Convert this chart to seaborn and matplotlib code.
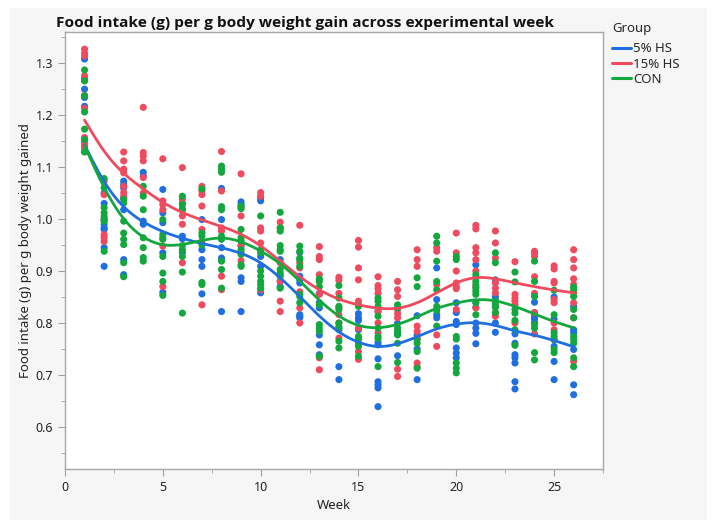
import matplotlib
matplotlib.use('Agg')
import matplotlib.pyplot as plt
from matplotlib.patches import Rectangle
from matplotlib.ticker import MultipleLocator
import numpy as np
import pandas as pd
import seaborn as sns

# week numbers on the x axis
weeks = [1, 2, 3, 4, 5, 6, 7, 8, 9, 10, 11, 12, 13,
         14, 15, 16, 17, 18, 19, 20, 21, 22, 23, 24, 25, 26]

groups = ['5% HS', '15% HS', 'CON']
group_colors = {'5% HS': '#1f6fe0', '15% HS': '#ef4a5e', 'CON': '#13a83e'}

# food intake per g body weight gained, one list per week
hs5_vals = [
    [1.308, 1.27, 1.25, 1.234, 1.217, 1.138, 1.13],
    [1.05, 1.03, 1.0, 0.99, 0.983, 0.98, 0.945, 0.909],
    [1.073, 1.067, 1.06, 1.04, 1.018, 0.922, 0.893],
    [1.09, 1.083, 0.996, 0.99],
    [1.057, 1.012, 0.993, 0.935, 0.859],
    [1.03, 1.02, 0.967, 0.962, 0.936],
    [0.999, 0.941, 0.922, 0.909, 0.856],
    [1.059, 0.999, 0.945, 0.925, 0.822],
    [1.033, 1.028, 0.948, 0.887, 0.88, 0.822],
    [1.041, 1.035, 0.928, 0.909, 0.858],
    [0.922, 0.891, 0.88, 0.87],
    [0.936, 0.89, 0.883, 0.877, 0.816, 0.813, 0.81],
    [0.857, 0.839, 0.829, 0.777, 0.758, 0.739],
    [0.793, 0.787, 0.716, 0.691],
    [0.818, 0.81, 0.805, 0.787],
    [0.822, 0.763, 0.758, 0.731, 0.687, 0.681, 0.675, 0.639],
    [0.799, 0.78, 0.737],
    [0.814, 0.777, 0.75, 0.691],
    [0.906, 0.845, 0.816, 0.81],
    [0.839, 0.82, 0.803, 0.797, 0.752, 0.742, 0.733],
    [0.912, 0.84, 0.83, 0.80, 0.79, 0.78, 0.76],
    [0.883, 0.851, 0.845, 0.8, 0.782],
    [0.779, 0.761, 0.739, 0.733, 0.723, 0.687, 0.673],
    [0.84, 0.82, 0.814, 0.808, 0.801],
    [0.85, 0.808, 0.768, 0.755, 0.726, 0.691],
    [0.832, 0.787, 0.781, 0.749, 0.681, 0.662],
]
hs15_vals = [
    [1.327, 1.319, 1.314, 1.276, 1.266, 1.238, 1.213, 1.157, 1.15, 1.144, 1.14],
    [1.073, 1.047, 0.97, 0.964, 0.957],
    [1.129, 1.112, 1.096, 1.089, 1.063, 1.051, 1.044],
    [1.215, 1.128, 1.121, 1.112, 1.08, 1.05],
    [1.116, 1.035, 1.028, 1.018, 0.948, 0.870],
    [1.099, 1.038, 1.006, 0.99, 0.916],
    [1.063, 1.054, 1.047, 1.025, 0.98, 0.957, 0.835],
    [1.13, 1.054, 0.983, 0.977, 0.89, 0.864],
    [1.087, 1.022, 1.006, 0.95, 0.935, 0.92],
    [1.051, 1.044, 0.983, 0.977, 0.954, 0.864],
    [0.994, 0.983, 0.916, 0.88, 0.842, 0.822],
    [0.988, 0.916, 0.906, 0.86, 0.829, 0.80],
    [0.947, 0.928, 0.922, 0.893, 0.855, 0.733, 0.71],
    [0.888, 0.882, 0.857, 0.83, 0.816, 0.80, 0.771],
    [0.959, 0.946, 0.906, 0.883, 0.842, 0.835, 0.79, 0.745, 0.73],
    [0.889, 0.872, 0.866, 0.857, 0.822, 0.80, 0.781],
    [0.88, 0.864, 0.851, 0.826, 0.818, 0.81, 0.711, 0.697],
    [0.941, 0.922, 0.909, 0.794, 0.784, 0.77, 0.723, 0.716],
    [0.945, 0.938, 0.874, 0.777, 0.755],
    [0.973, 0.935, 0.90, 0.877, 0.870, 0.866, 0.826],
    [0.988, 0.981, 0.945, 0.935, 0.922, 0.90, 0.87, 0.829],
    [0.977, 0.954, 0.925, 0.877, 0.867, 0.858, 0.832, 0.819, 0.813],
    [0.918, 0.855, 0.848, 0.842, 0.835, 0.8],
    [0.938, 0.934, 0.928, 0.889, 0.857, 0.82, 0.779],
    [0.91, 0.904, 0.88, 0.877, 0.845, 0.839, 0.80, 0.787],
    [0.941, 0.922, 0.906, 0.885, 0.874, 0.858, 0.839, 0.81, 0.726],
]
con_vals = [
    [1.287, 1.266, 1.237, 1.206, 1.173, 1.153, 1.129],
    [1.078, 1.06, 1.022, 1.012, 1.005, 0.999, 0.996, 0.938],
    [1.038, 1.031, 0.996, 0.973, 0.961, 0.951, 0.916, 0.889],
    [1.063, 1.044, 1.018, 0.964, 0.945, 0.926, 0.919],
    [0.999, 0.97, 0.964, 0.961, 0.928, 0.896, 0.88, 0.853],
    [1.044, 1.028, 1.017, 0.949, 0.941, 0.928, 0.898, 0.819],
    [1.058, 0.973, 0.967, 0.95, 0.878, 0.874],
    [1.102, 1.096, 1.09, 1.024, 1.018, 0.967, 0.961, 0.919, 0.903, 0.867],
    [1.025, 1.02, 0.98, 0.964, 0.958, 0.941, 0.932, 0.912, 0.909],
    [1.006, 0.941, 0.935, 0.9, 0.89, 0.88, 0.874, 0.867],
    [1.013, 0.983, 0.977, 0.949, 0.941, 0.938, 0.903, 0.896, 0.89, 0.867],
    [0.948, 0.938, 0.925, 0.922, 0.909, 0.855, 0.851, 0.839],
    [0.885, 0.88, 0.87, 0.835, 0.797, 0.79, 0.784, 0.736],
    [0.872, 0.848, 0.832, 0.826, 0.8, 0.79, 0.765, 0.752],
    [0.832, 0.774, 0.768, 0.76, 0.755, 0.736],
    [0.848, 0.842, 0.832, 0.813, 0.79, 0.774, 0.77, 0.716],
    [0.835, 0.829, 0.79, 0.784, 0.777, 0.761, 0.724],
    [0.887, 0.87, 0.768, 0.761, 0.745, 0.713],
    [0.967, 0.954, 0.919, 0.88, 0.864, 0.832, 0.824, 0.794],
    [0.928, 0.922, 0.774, 0.769, 0.723, 0.713, 0.704],
    [0.893, 0.887, 0.88, 0.874, 0.867, 0.861, 0.855, 0.839, 0.816],
    [0.935, 0.916, 0.842, 0.836, 0.83, 0.82],
    [0.898, 0.879, 0.826, 0.819, 0.805, 0.787, 0.757],
    [0.919, 0.88, 0.851, 0.797, 0.79, 0.743, 0.729],
    [0.863, 0.816, 0.781, 0.774, 0.768, 0.749, 0.743],
    [0.869, 0.864, 0.851, 0.826, 0.81, 0.774, 0.768, 0.761, 0.733, 0.716],
]

SMOOTH_LAMBDA = 20.0


def smooth_curve(df, lam=SMOOTH_LAMBDA, step=0.1):
    # penalised (smoothing-spline like) fit on a fine grid
    grid = np.round(np.arange(weeks[0], weeks[-1] + step / 2, step), 3)
    n = len(grid)
    w = np.zeros(n)
    wy = np.zeros(n)
    for wk, sub in df.groupby('Week'):
        k = int(round((wk - grid[0]) / step))
        w[k] += len(sub)
        wy[k] += sub['Value'].sum()
    d = np.diff(np.eye(n), 2, axis=0)
    a = np.diag(w) + lam * d.T @ d / step ** 3
    fit = np.linalg.solve(a, wy)
    return grid, fit


rows = []
for name, vals in zip(groups, [hs5_vals, hs15_vals, con_vals]):
    for wk, vs in zip(weeks, vals):
        for v in vs:
            rows.append({'Group': name, 'Week': wk, 'Value': v})
data = pd.DataFrame(rows)

sns.set_style('white')
plt.rcParams['font.family'] = ['Noto Sans', 'DejaVu Sans']

fig = plt.figure(figsize=(7.18, 5.31), dpi=100)
fig.patch.set_facecolor('white')
fig.patches.append(Rectangle((10 / 718, 11 / 531), 697 / 718, 512 / 531,
                             transform=fig.transFigure, facecolor='#f6f6f6',
                             edgecolor='none', zorder=-10))
ax = fig.add_axes([65 / 718, 1 - 469 / 531, 538 / 718, 437 / 531])

sns.scatterplot(data=data, x='Week', y='Value', hue='Group', hue_order=groups,
                palette=group_colors, s=26, linewidth=0, legend=False, ax=ax,
                zorder=3)

for name in groups:
    gx, gy = smooth_curve(data[data['Group'] == name])
    sns.lineplot(x=gx, y=gy, color=group_colors[name], linewidth=2.0, ax=ax,
                 label=name, zorder=4)

ax.set_xlim(0, 27.5)
ax.set_ylim(0.519, 1.36)
ax.xaxis.set_major_locator(MultipleLocator(5))
ax.xaxis.set_minor_locator(MultipleLocator(2.5))
ax.yaxis.set_major_locator(MultipleLocator(0.1))
ax.yaxis.set_minor_locator(MultipleLocator(0.05))
ax.yaxis.set_major_formatter(matplotlib.ticker.FormatStrFormatter('%.1f'))
ax.tick_params(which='both', direction='out', color='#a0a0a0', labelsize=9,
               labelcolor='#222222', left=True, bottom=True)
ax.tick_params(which='major', length=5)
ax.tick_params(which='minor', length=3)
for sp in ax.spines.values():
    sp.set_color('#a8a8a8')
    sp.set_linewidth(1.0)
ax.set_facecolor('white')

ax.set_xlabel('Week', fontsize=9.5, color='#222222', labelpad=4)
ax.set_ylabel('Food intake (g) per g body weight gained', fontsize=9.5,
              color='#222222', labelpad=3)

fig.text(56 / 718, 1 - 27 / 531,
         'Food intake (g) per g body weight gain across experimental week',
         fontsize=11.1, fontweight='bold', ha='left', va='baseline',
         color='#111111', family=['Open Sans', 'DejaVu Sans'])

handles, labels = ax.get_legend_handles_labels()
ax.get_legend().remove()
leg = fig.legend(handles, labels, title='Group', loc='upper left',
                 bbox_to_anchor=(607 / 718, 1 - 17 / 531), frameon=False,
                 fontsize=9.5, title_fontsize=9.5, handlelength=1.4,
                 handletextpad=0.2, labelspacing=0.18, borderaxespad=0)
leg._legend_box.align = 'left'
leg._legend_box.sep = 5
for line in leg.get_lines():
    line.set_linewidth(2.2)

fig.savefig('out.png', dpi=100)
